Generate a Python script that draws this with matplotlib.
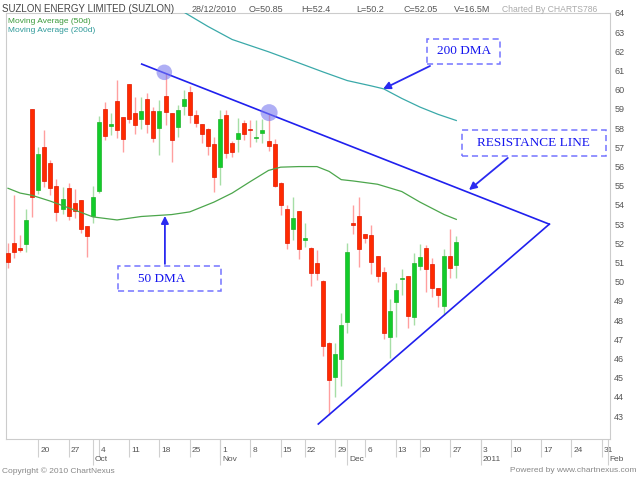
import numpy as np
import pandas as pd
import matplotlib
matplotlib.use('Agg')
import matplotlib.pyplot as plt
from matplotlib.patches import Rectangle
from matplotlib.transforms import ScaledTranslation

plt.rcParams['font.family'] = ['Liberation Sans', 'DejaVu Sans']

# daily candles, 13 Sep 2010 .. 28 Dec 2010 (trading days)
opens = [51.48, 52.0, 51.74, 51.95, 59.0, 54.78, 57.0, 56.17, 54.99, 53.79,
         54.9, 54.08, 54.26, 52.92, 53.44, 54.74, 59.0, 58.1, 59.42, 58.57,
         60.3, 58.81, 58.48, 59.5, 58.91, 57.99, 59.68, 58.78, 58.05, 59.17,
         59.9, 58.69, 58.22, 57.94, 57.16, 55.99, 58.69, 57.21, 57.42, 58.25,
         57.94, 57.5, 57.77, 57.33, 57.18, 55.16, 53.79, 52.75, 53.7, 52.2,
         51.78, 50.96, 50.06, 46.83, 45.06, 45.98, 47.92, 53.05, 53.44, 52.49,
         52.44, 51.34, 50.53, 47.14, 48.96, 50.15, 50.3, 48.18, 50.82, 51.74,
         50.93, 49.66, 48.74, 51.34, 50.85]
highs = [52.0, 54.52, 52.44, 53.79, 59.0, 57.04, 57.9, 56.34, 55.34, 54.95,
         55.13, 54.83, 54.26, 52.92, 55.0, 58.65, 59.38, 58.8, 60.51, 58.6,
         60.3, 59.64, 59.64, 59.82, 59.1, 59.47, 60.9, 58.78, 59.21, 59.99,
         60.2, 58.95, 58.22, 57.99, 57.56, 58.95, 58.95, 57.35, 58.52, 58.43,
         58.43, 58.43, 58.46, 58.75, 57.42, 55.2, 54.0, 54.4, 53.7, 53.04,
         51.8, 51.65, 50.09, 46.88, 46.83, 48.36, 52.04, 54.0, 54.43, 52.5,
         52.96, 51.34, 50.79, 49.08, 49.95, 50.65, 50.3, 51.48, 51.95, 51.91,
         51.22, 49.7, 51.69, 52.73, 52.4]
lows = [50.73, 51.25, 51.57, 51.57, 53.39, 54.55, 54.95, 54.52, 53.18, 53.51,
        53.22, 53.3, 52.52, 51.31, 53.04, 54.6, 57.39, 57.65, 57.5, 56.78,
        58.25, 57.7, 57.96, 57.73, 57.3, 56.6, 58.17, 56.26, 57.52, 58.69,
        58.25, 58.05, 57.21, 56.6, 54.69, 55.04, 56.43, 56.48, 56.78, 57.39,
        57.0, 57.3, 57.21, 56.83, 54.95, 53.5, 51.7, 52.18, 51.2, 51.83,
        49.8, 50.1, 46.13, 43.06, 44.02, 44.57, 47.31, 52.49, 50.75, 52.0,
        50.4, 50.0, 47.0, 46.01, 47.1, 49.31, 47.57, 47.75, 50.6, 49.48,
        49.22, 48.7, 48.27, 50.18, 50.2]
closes = [51.01, 51.57, 51.67, 53.22, 54.43, 56.65, 55.25, 54.87, 53.65, 54.31,
          53.44, 53.69, 52.75, 52.4, 54.43, 58.3, 57.6, 58.2, 57.9, 57.44,
          58.48, 58.17, 58.9, 58.22, 57.51, 58.91, 58.86, 57.39, 58.95, 59.52,
          58.69, 58.25, 57.68, 57.07, 55.48, 58.46, 56.69, 56.78, 57.73, 57.68,
          57.9, 57.54, 57.9, 57.09, 55.01, 54.0, 52.04, 53.3, 51.72, 52.24,
          50.44, 50.44, 46.65, 44.88, 46.24, 47.75, 51.57, 52.98, 51.71, 52.26,
          51.05, 50.3, 47.31, 48.48, 49.57, 50.2, 48.22, 50.96, 51.27, 50.65,
          49.66, 49.31, 51.34, 50.7, 52.05]

# moving averages (trading-day index, price)
ma50_idx = [0, 2, 4, 7, 10, 12, 14, 18, 22, 27, 30, 34, 37, 40, 43, 45, 48,
            51, 53, 55, 57, 61, 65, 68, 72, 74]
ma50_val = [54.87, 54.62, 54.5, 54.2, 53.85, 53.62, 53.38, 53.22, 53.4, 53.5,
            53.64, 54.15, 54.62, 55.22, 55.8, 55.97, 56.0, 56.0, 55.75, 55.32,
            55.25, 55.08, 54.7, 54.15, 53.5, 53.25]
ma200_idx = [28, 29, 33, 37, 43, 48, 52, 56, 60, 62, 65, 68, 71, 74]
ma200_val = [64.25, 64.05, 63.3, 62.62, 61.98, 61.4, 60.93, 60.48, 60.2, 60.05,
             59.55, 59.1, 58.72, 58.4]

# hand drawn trend lines and highlighted highs
resistance = ([22.07, 89.35], [61.34, 53.0])
support = ([51.22, 89.35], [42.59, 53.0])
circle_idx = [25.8, 43.1]
circle_val = [60.91, 58.81]

week_labels = ['20', '27', '4', '11', '18', '25', '1', '8', '15', '22', '29',
               '6', '13', '20', '27', '3', '10', '17', '24', '31']
month_labels = ['Oct', 'Nov', 'Dec', '2011', 'Feb']
holidays = ['2010-11-17', '2010-12-17']

days = pd.bdate_range('2010-09-13', '2011-02-01')
days = days[~days.isin(pd.to_datetime(holidays))]
week_pos = [i for i, d in enumerate(days) if d.weekday() == 0 and i > 0]
month_pos = [i for i in range(1, len(days)) if days[i].month != days[i - 1].month]

o = np.array(opens)
h = np.array(highs)
l = np.array(lows)
c = np.array(closes)
x = np.arange(len(o))
up = c >= o

fig = plt.figure(figsize=(6.4, 4.8), dpi=100)
ax = fig.add_axes([5.7 / 640, 1 - 439 / 480, (610 - 5.7) / 640, (439 - 13) / 480])
ax.set_xlim(-0.38, 99.37)
ax.set_ylim(41.81, 64.0)

# candles
wick_col = np.where(up, '#a6dea6', '#ff9f9f')
ax.vlines(x, l, h, colors=wick_col, lw=1.0, zorder=2)
body_bot = np.minimum(o, c)
body_h = np.maximum(np.abs(c - o), 0.06)
ax.bar(x, body_h, bottom=body_bot, width=0.66,
       color=np.where(up, '#12cc2a', '#ff2a00'),
       edgecolor=np.where(up, '#22b22a', '#e01800'), linewidth=0.5, zorder=3)

ax.plot(ma50_idx, ma50_val, color='#4ca64c', lw=0.9, zorder=4)
ax.plot(ma200_idx, ma200_val, color='#3aa9a9', lw=0.9, zorder=4)

ax.plot(*resistance, color='#2020ee', lw=1.2, zorder=5)
ax.plot(*support, color='#2020ee', lw=1.2, zorder=5)
ax.scatter(circle_idx, circle_val, s=[125, 150], color='#7b7bef', alpha=0.6,
           edgecolors='none', zorder=6)

# annotation boxes
box_kw = dict(fill=False, edgecolor='#7474ff', lw=1.1, ls=(0, (4, 2.5)), zorder=6)
txt_kw = dict(family=['Liberation Serif', 'DejaVu Serif'], fontsize=9.5,
              color='#1414ee', ha='center', va='center', zorder=7)
arr_kw = dict(arrowstyle='-|>', color='#2a2af0', lw=1.3, mutation_scale=11,
              shrinkA=0, shrinkB=0)

ax.add_patch(Rectangle((69.16, 61.34), 12.04, 1.31, **box_kw))
ax.text(75.2, 62.0, '200 DMA', **txt_kw)
ax.annotate('', xy=(61.9, 60.04), xytext=(69.66, 61.24), arrowprops=arr_kw)

ax.add_patch(Rectangle((74.94, 56.55), 23.77, 1.36, **box_kw))
ax.text(86.8, 57.23, 'RESISTANCE LINE', **txt_kw)
ax.annotate('', xy=(76.1, 54.78), xytext=(82.5, 56.45), arrowprops=arr_kw)

ax.add_patch(Rectangle((18.1, 49.52), 17.0, 1.32, **box_kw))
ax.text(25.4, 50.17, '50 DMA', **txt_kw)
ax.annotate('', xy=(25.9, 53.43), xytext=(25.9, 50.93), arrowprops=arr_kw)

# axes styling
for s in ax.spines.values():
    s.set_color('#cccccc')
    s.set_linewidth(0.8)

ax.yaxis.tick_right()
ax.set_yticks(range(43, 65))
ax.tick_params(axis='y', length=0, pad=3, labelsize=6.5, labelcolor='#555555')

ax.xaxis.remove_overlapping_locs = False
ax.set_xticks(week_pos)
ax.set_xticklabels(week_labels, ha='left')
ax.set_xticks(month_pos, minor=True)
ax.set_xticklabels(month_labels, minor=True, ha='left')
ax.tick_params(axis='x', which='major', length=13, width=0.8, color='#d0d0d0',
               pad=-7.6, labelsize=6, labelcolor='#555555')
ax.tick_params(axis='x', which='minor', length=19, width=0.8, color='#d0d0d0',
               pad=-6.5, labelsize=6, labelcolor='#555555')
shift = ScaledTranslation(2 / 100, 0, fig.dpi_scale_trans)
for lbl in ax.get_xticklabels() + ax.get_xticklabels(minor=True):
    lbl.set_transform(lbl.get_transform() + shift)

# legend
ax.text(0.004, 0.980, 'Moving Average (50d)', transform=ax.transAxes,
        fontsize=6, color='#3a9a3a', va='center')
ax.text(0.004, 0.959, 'Moving Average (200d)', transform=ax.transAxes,
        fontsize=6, color='#2f9a9a', va='center')

# header and footer
hy = 1 - 9 / 480
fig.text(2 / 640, hy, 'SUZLON ENERGY LIMITED (SUZLON)', fontsize=7, color='#444444', va='center')
for xp, t in [(192, '28/12/2010'), (249, 'O=50.85'), (301, 'H=52.4'), (356, 'L=50.2'),
              (403, 'C=52.05'), (454, 'V=16.5M')]:
    fig.text(xp / 640, hy, t, fontsize=6.5, color='#555555', va='center')
fig.text(597 / 640, hy, 'Charted By CHARTS786', fontsize=6.2, color='#aaaaaa',
         va='center', ha='right')
fy = 1 - 471 / 480
fig.text(2 / 640, fy, 'Copyright \u00a9 2010 ChartNexus', fontsize=6, color='#888888', va='center')
fig.text(636 / 640, fy, 'Powered by www.chartnexus.com', fontsize=6, color='#888888',
         va='center', ha='right')

fig.savefig('out.png', dpi=100)
